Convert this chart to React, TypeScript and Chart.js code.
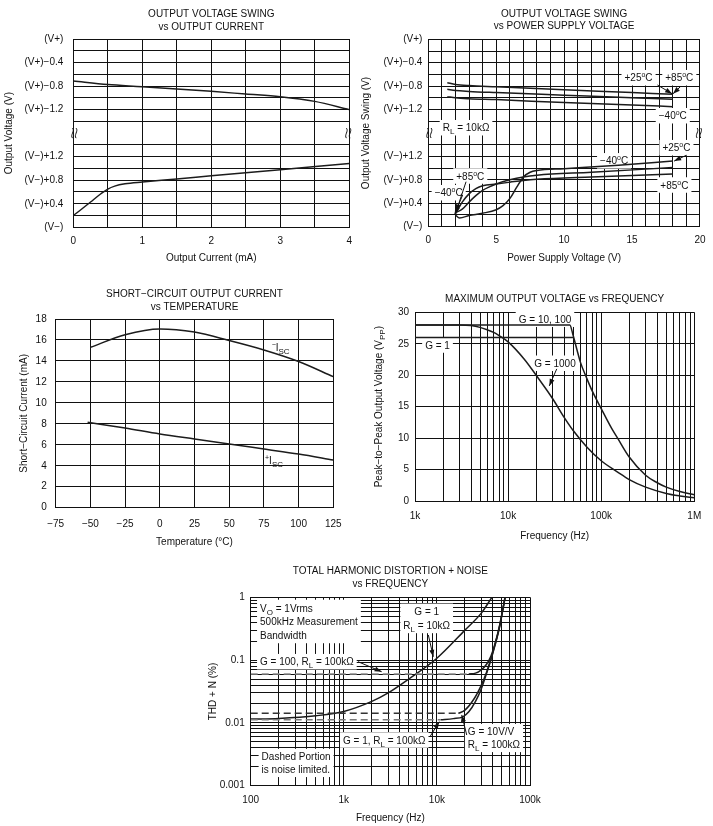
import React, { useEffect, useRef } from "react";
import { Chart, registerables } from "chart.js";

Chart.register(...registerables);

const FONT_FAMILY = "'Liberation Sans', Arial, Helvetica, sans-serif";
const INK = "#111111";
const CURVE = "#1c1c1c";

/* ---------- shared broken "swing" axis (volts between V− and V+) ---------- */
const swingTickValues = [0, 0.4, 0.8, 1.2, 2.0, 2.4, 2.8, 3.2];
const swingTickLabels = ["(V−)", "(V−)+0.4", "(V−)+0.8", "(V−)+1.2", "(V+)−1.2", "(V+)−0.8", "(V+)−0.4", "(V+)"];
const SWING_SPAN = 3.2;
const SWING_BREAK = 1.6;

/* ---------- Panel 1: output voltage swing vs output current ---------- */
const c1Title = ["OUTPUT VOLTAGE SWING", "vs OUTPUT CURRENT"];
const c1HighCurrent = [0, 0.5, 1, 1.5, 2, 2.5, 3, 3.5, 4];
const c1HighSwing = [-0.715, -0.775, -0.81, -0.85, -0.89, -0.935, -0.98, -1.06, -1.2];
const c1LowCurrent = [0, 0.1, 0.25, 0.4, 0.5, 0.6, 0.75, 1, 1.5, 2, 3, 4];
const c1LowSwing = [0.2, 0.29, 0.43, 0.57, 0.65, 0.7, 0.74, 0.77, 0.82, 0.875, 0.98, 1.085];
const c1XTickValues = [0, 1, 2, 3, 4];
const c1XTickLabels = ["0", "1", "2", "3", "4"];

/* ---------- Panel 2: output voltage swing vs supply voltage ---------- */
const c2Title = ["OUTPUT VOLTAGE SWING", "vs POWER SUPPLY VOLTAGE"];
const c2HighSupply = [1.4, 2, 3, 5, 10, 15, 18];
const c2HighA = [-0.742, -0.77, -0.79, -0.81, -0.86, -0.91, -0.94];
const c2HighB = [-0.854, -0.875, -0.89, -0.91, -0.955, -1.0, -1.025];
const c2HighC = [-0.98, -1.0, -1.015, -1.03, -1.08, -1.12, -1.15];
const c2LowSupplyA = [2, 2.3, 3, 4, 5, 5.5, 6, 6.5, 7, 7.5, 8, 10, 14, 18];
const c2LowA = [0.2, 0.15, 0.19, 0.23, 0.29, 0.36, 0.48, 0.67, 0.85, 0.93, 0.96, 0.99, 1.05, 1.12];
const c2LowSupplyB = [2, 2.5, 3, 3.5, 4, 5, 6, 7, 8, 12, 18];
const c2LowB = [0.22, 0.42, 0.56, 0.65, 0.7, 0.73, 0.76, 0.79, 0.81, 0.85, 0.9];
const c2LowSupplyC = [2, 2.5, 3, 3.5, 4, 4.5, 5, 6, 7, 8, 12, 18];
const c2LowC = [0.24, 0.3, 0.42, 0.53, 0.62, 0.68, 0.73, 0.8, 0.85, 0.88, 0.93, 1.01];
const c2XTickValues = [0, 5, 10, 15, 20];
const c2XTickLabels = ["0", "5", "10", "15", "20"];

/* ---------- Panel 3: short-circuit current vs temperature ---------- */
const c3Title = ["SHORT−CIRCUIT OUTPUT CURRENT", "vs TEMPERATURE"];
const c3TempNeg = [-50, -25, 0, 25, 50, 75, 100, 125];
const c3IscNeg = [15.3, 16.5, 17.05, 16.75, 15.95, 15.05, 13.95, 12.5];
const c3TempPos = [-52, -25, 0, 25, 50, 75, 100, 125];
const c3IscPos = [8.15, 7.6, 7.03, 6.55, 6.08, 5.6, 5.12, 4.55];
const c3XTickValues = [-75, -50, -25, 0, 25, 50, 75, 100, 125];
const c3XTickLabels = ["−75", "−50", "−25", "0", "25", "50", "75", "100", "125"];
const c3YTickValues = [0, 2, 4, 6, 8, 10, 12, 14, 16, 18];
const c3YTickLabels = ["0", "2", "4", "6", "8", "10", "12", "14", "16", "18"];

/* ---------- Panel 4: max output voltage vs frequency ---------- */
const c4Title = ["MAXIMUM OUTPUT VOLTAGE vs FREQUENCY"];
const c4FreqG1 = [1000, 50500];
const c4VppG1 = [26, 26];
const c4FreqG10 = [1000, 46000, 50000, 55000, 60000, 70000, 80000, 100000, 130000, 150000, 200000, 300000, 400000, 500000, 700000, 1000000];
const c4VppG10 = [28, 28, 26.3, 24, 22, 19.5, 17.5, 14.7, 11.5, 10, 7, 4.1, 2.9, 2.2, 1.5, 1.0];
const c4FreqG1000 = [1000, 3000, 4000, 5000, 6000, 7000, 8000, 10000, 15000, 20000, 30000, 40000, 50000, 70000, 100000, 150000, 200000, 300000, 500000, 700000, 1000000];
const c4VppG1000 = [28, 28, 27.9, 27.6, 27.2, 26.8, 26.3, 25.3, 22.5, 20, 16.3, 13.3, 11.2, 8.6, 6.4, 4.6, 3.4, 2.2, 1.2, 0.8, 0.5];
const c4XTickValues = [1000, 10000, 100000, 1000000];
const c4XTickLabels = ["1k", "10k", "100k", "1M"];
const c4YTickValues = [0, 5, 10, 15, 20, 25, 30];
const c4YTickLabels = ["0", "5", "10", "15", "20", "25", "30"];

/* ---------- Panel 5: THD + N vs frequency ---------- */
const c5Title = ["TOTAL HARMONIC DISTORTION + NOISE", "vs FREQUENCY"];
const c5FreqG1Rl10k = [100, 200, 500, 1000, 2000, 3000, 5000, 10000, 20000, 30000, 39000];
const c5ThdG1Rl10k = [0.0115, 0.0118, 0.013, 0.0152, 0.022, 0.03, 0.05, 0.107, 0.3, 0.56, 1.0];
const c5FreqG100Noise = [100, 22000];
const c5ThdG100Noise = [0.06, 0.06];
const c5FreqG100 = [22000, 26000, 30000, 34000, 38000, 42000, 47000, 54000];
const c5ThdG100 = [0.06, 0.062, 0.07, 0.085, 0.115, 0.18, 0.35, 1.0];
const c5FreqG1Noise = [100, 11000];
const c5ThdG1Noise = [0.0112, 0.0112];
const c5FreqG1Rl100k = [11000, 15000, 19000, 22000, 26000, 30000, 34000, 38000, 42000, 47000, 54000];
const c5ThdG1Rl100k = [0.0112, 0.0117, 0.0125, 0.015, 0.022, 0.035, 0.06, 0.1, 0.17, 0.33, 1.0];
const c5FreqG10Noise = [100, 17000];
const c5ThdG10Noise = [0.0142, 0.0142];
const c5FreqG10 = [17000, 20000, 25000, 30000, 34000, 38000, 42000, 47000, 54000];
const c5ThdG10 = [0.0142, 0.016, 0.024, 0.04, 0.063, 0.105, 0.175, 0.34, 1.0];
const c5XTickValues = [100, 1000, 10000, 100000];
const c5XTickLabels = ["100", "1k", "10k", "100k"];
const c5YTickValues = [0.001, 0.01, 0.1, 1];
const c5YTickLabels = ["0.001", "0.01", "0.1", "1"];

/* ---------- helpers ---------- */
const pts = (xs: number[], ys: number[], f: (v: number) => number = (v) => v) =>
  xs.map((x, i) => ({ x, y: f(ys[i]) }));
const fromTop = (v: number) => SWING_SPAN + v;

const range = (a: number, b: number, step: number) => {
  const out: number[] = [];
  for (let i = 0; a + i * step <= b + 1e-9; i++) out.push(Math.round((a + i * step) * 1e6) / 1e6);
  return out;
};
const logGrid = (e0: number, e1: number) => {
  const out: number[] = [];
  for (let e = e0; e < e1; e++) for (let d = 1; d <= 9; d++) out.push(Number((d * Math.pow(10, e)).toPrecision(6)));
  out.push(Number(Math.pow(10, e1).toPrecision(6)));
  return out;
};
const labelFrom = (values: number[], labels: string[]) => (v: number) => {
  const i = values.findIndex((t) => Math.abs(t - v) <= 1e-6 * Math.max(1, Math.abs(t)));
  return i >= 0 ? labels[i] : "";
};

const line = (data: any[], extra: any = {}) => ({
  data,
  borderColor: CURVE,
  borderWidth: 1.5,
  pointRadius: 0,
  fill: false,
  cubicInterpolationMode: "monotone",
  ...extra,
});

type Seg = { t: string; k?: "sub" | "sup" };
function segs(s: string): Seg[] {
  const out: Seg[] = [];
  const re = /([_^])\{([^}]*)\}/g;
  let last = 0;
  let m: RegExpExecArray | null;
  while ((m = re.exec(s))) {
    if (m.index > last) out.push({ t: s.slice(last, m.index) });
    out.push({ t: m[2], k: m[1] === "_" ? "sub" : "sup" });
    last = re.lastIndex;
  }
  if (last < s.length) out.push({ t: s.slice(last) });
  return out;
}
const segFont = (k?: string) => (k === "sub" ? `8px ${FONT_FAMILY}` : k === "sup" ? `7px ${FONT_FAMILY}` : `10px ${FONT_FAMILY}`);
function richWidth(ctx: CanvasRenderingContext2D, s: string) {
  let w = 0;
  for (const sg of segs(s)) {
    ctx.font = segFont(sg.k);
    w += ctx.measureText(sg.t).width;
  }
  return w;
}
function drawRich(ctx: CanvasRenderingContext2D, s: string, x: number, y: number, align: string) {
  const w = richWidth(ctx, s);
  let cx = align === "center" ? x - w / 2 : align === "right" ? x - w : x;
  ctx.textAlign = "left";
  ctx.textBaseline = "alphabetic";
  const base = y + 3.6;
  for (const sg of segs(s)) {
    ctx.font = segFont(sg.k);
    const dy = sg.k === "sub" ? 3 : sg.k === "sup" ? -4 : 0;
    ctx.fillText(sg.t, cx, base + dy);
    cx += ctx.measureText(sg.t).width;
  }
}

type Note = { x: number; y: number; lines: string[]; align?: string; box?: boolean; lh?: number };
type Arrow = { x1: number; y1: number; x2: number; y2: number };
type AxisSpec = {
  type: "linear" | "logarithmic";
  min: number;
  max: number;
  grid: number[];
  tickValues: number[];
  tickLabels: string[];
  padding: number;
  title?: string;
  titlePad?: number;
  hideGridAt?: number;
};
type PanelSpec = {
  key: string;
  left: number;
  top: number;
  width: number;
  height: number;
  padTop: number;
  padRight: number;
  yWidth: number;
  xHeight: number;
  title: string[];
  titleY: number[];
  datasets: any[];
  x: AxisSpec;
  y: AxisSpec;
  notes: Note[];
  arrows: Arrow[];
  breakAt?: number;
  yRichTitle?: { text: string; x: number };
};

function buildScale(s: AxisSpec, axis: "x" | "y", size: number) {
  const label = labelFrom(s.tickValues, s.tickLabels);
  return {
    type: s.type,
    position: axis === "x" ? "bottom" : "left",
    min: s.min,
    max: s.max,
    afterBuildTicks: (scale: any) => {
      scale.ticks = s.grid.map((v) => ({ value: v, major: false }));
    },
    afterFit: (scale: any) => {
      if (axis === "x") scale.height = size;
      else scale.width = size;
    },
    grid: {
      drawTicks: false,
      lineWidth: 1,
      color: (ctx: any) =>
        s.hideGridAt !== undefined && ctx.tick && Math.abs(ctx.tick.value - s.hideGridAt) < 1e-6
          ? "rgba(0,0,0,0)"
          : INK,
    },
    border: { display: true, color: INK, width: 1 },
    ticks: {
      autoSkip: false,
      maxRotation: 0,
      minRotation: 0,
      padding: s.padding,
      color: INK,
      font: { family: FONT_FAMILY, size: 10 },
      callback: (v: any) => label(Number(v)),
    },
    title: s.title
      ? {
          display: true,
          text: s.title,
          color: INK,
          font: { family: FONT_FAMILY, size: 10, lineHeight: 1.2 },
          padding: axis === "x" ? { top: 0, bottom: s.titlePad ?? 0 } : { top: s.titlePad ?? 0, bottom: 0 },
        }
      : { display: false },
  };
}

function noteRect(ctx: CanvasRenderingContext2D, px: number, py: number, n: Note) {
  const lh = n.lh ?? 12.5;
  const w = Math.max(...n.lines.map((l) => richWidth(ctx, l)));
  const align = n.align ?? "left";
  const left = align === "center" ? px - w / 2 : align === "right" ? px - w : px;
  return { x: left - 3, y: py - lh / 2 - 1.5, w: w + 6, h: n.lines.length * lh + 3 };
}

function drawBreakMark(ctx: CanvasRenderingContext2D, x: number, y: number) {
  ctx.save();
  ctx.strokeStyle = INK;
  ctx.lineWidth = 1;
  for (const off of [-1.8, 1.8]) {
    const cx = x + off;
    ctx.beginPath();
    ctx.moveTo(cx, y - 5);
    ctx.bezierCurveTo(cx + 2.6, y - 2, cx - 2.6, y + 2, cx, y + 5);
    ctx.stroke();
  }
  ctx.restore();
}

function overlay(p: PanelSpec) {
  const at = (chart: any, x: number, y: number) => ({
    px: chart.scales.x.getPixelForValue(x),
    py: chart.scales.y.getPixelForValue(y),
  });
  return {
    id: "overlay" + p.key,
    beforeDatasetsDraw(chart: any) {
      const ctx: CanvasRenderingContext2D = chart.ctx;
      ctx.save();
      ctx.fillStyle = "#ffffff";
      for (const n of p.notes) {
        if (!n.box) continue;
        const { px, py } = at(chart, n.x, n.y);
        const r = noteRect(ctx, px, py, n);
        ctx.fillRect(r.x, r.y, r.w, r.h);
      }
      ctx.restore();
    },
    afterDatasetsDraw(chart: any) {
      const ctx: CanvasRenderingContext2D = chart.ctx;
      ctx.save();
      ctx.strokeStyle = INK;
      ctx.fillStyle = INK;
      ctx.lineWidth = 1;
      for (const a of p.arrows) {
        const s = at(chart, a.x1, a.y1);
        const e = at(chart, a.x2, a.y2);
        const ang = Math.atan2(e.py - s.py, e.px - s.px);
        ctx.beginPath();
        ctx.moveTo(s.px, s.py);
        ctx.lineTo(e.px, e.py);
        ctx.stroke();
        ctx.beginPath();
        ctx.moveTo(e.px, e.py);
        ctx.lineTo(e.px - 7 * Math.cos(ang) + 2.5 * Math.sin(ang), e.py - 7 * Math.sin(ang) - 2.5 * Math.cos(ang));
        ctx.lineTo(e.px - 7 * Math.cos(ang) - 2.5 * Math.sin(ang), e.py - 7 * Math.sin(ang) + 2.5 * Math.cos(ang));
        ctx.closePath();
        ctx.fill();
      }
      for (const n of p.notes) {
        const { px, py } = at(chart, n.x, n.y);
        const lh = n.lh ?? 12.5;
        n.lines.forEach((l, i) => drawRich(ctx, l, px, py + i * lh, n.align ?? "left"));
      }
      if (p.breakAt !== undefined) {
        const yb = chart.scales.y.getPixelForValue(p.breakAt);
        const { left, right } = chart.chartArea;
        drawBreakMark(ctx, left + 1, yb);
        drawBreakMark(ctx, right - 1, yb);
      }
      ctx.restore();
    },
    afterDraw(chart: any) {
      const ctx: CanvasRenderingContext2D = chart.ctx;
      const { left, right, top, bottom } = chart.chartArea;
      ctx.save();
      ctx.fillStyle = INK;
      ctx.font = `10px ${FONT_FAMILY}`;
      ctx.textAlign = "center";
      ctx.textBaseline = "middle";
      p.title.forEach((t, i) => ctx.fillText(t, (left + right) / 2, p.titleY[i]));
      if (p.yRichTitle) {
        ctx.translate(p.yRichTitle.x, (top + bottom) / 2);
        ctx.rotate(-Math.PI / 2);
        drawRich(ctx, p.yRichTitle.text, 0, 0, "center");
      }
      ctx.restore();
    },
  };
}

function buildConfig(p: PanelSpec): any {
  return {
    type: "line",
    data: { datasets: p.datasets },
    options: {
      responsive: false,
      animation: false,
      devicePixelRatio: 1,
      events: [],
      layout: { padding: { top: p.padTop, right: p.padRight, left: 0, bottom: 0 } },
      plugins: { legend: { display: false }, tooltip: { enabled: false }, title: { display: false } },
      scales: { x: buildScale(p.x, "x", p.xHeight), y: buildScale(p.y, "y", p.yWidth) },
    },
    plugins: [overlay(p)],
  };
}

const swingAxis = (title: string, padding: number, titlePad: number): AxisSpec => ({
  type: "linear",
  min: 0,
  max: SWING_SPAN,
  grid: range(0, SWING_SPAN, 0.2),
  tickValues: swingTickValues,
  tickLabels: swingTickLabels,
  padding,
  title,
  titlePad,
  hideGridAt: SWING_BREAK,
});

/* ---------- panel specs ---------- */
const panel1: PanelSpec = {
  key: "p1",
  left: 0, top: 0, width: 360, height: 275,
  padTop: 39, padRight: 9.3, yWidth: 73.3, xHeight: 47.7,
  title: c1Title, titleY: [14.3, 27.3],
  datasets: [line(pts(c1HighCurrent, c1HighSwing, fromTop)), line(pts(c1LowCurrent, c1LowSwing))],
  x: { type: "linear", min: 0, max: 4, grid: range(0, 4, 0.5), tickValues: c1XTickValues, tickLabels: c1XTickLabels, padding: 8, title: "Output Current (mA)", titlePad: 11 },
  y: swingAxis("Output Voltage (V)", 10, 3.3),
  notes: [],
  arrows: [],
  breakAt: SWING_BREAK,
};

const panel2: PanelSpec = {
  key: "p2",
  left: 360, top: 0, width: 353, height: 275,
  padTop: 39.3, padRight: 8, yWidth: 68.3, xHeight: 48.3,
  title: c2Title, titleY: [14.3, 26.7],
  datasets: [
    line(pts(c2HighSupply, c2HighA, fromTop)),
    line(pts(c2HighSupply, c2HighB, fromTop)),
    line(pts(c2HighSupply, c2HighC, fromTop)),
    line(pts(c2LowSupplyA, c2LowA)),
    line(pts(c2LowSupplyB, c2LowB)),
    line(pts(c2LowSupplyC, c2LowC)),
  ],
  x: { type: "linear", min: 0, max: 20, grid: range(0, 20, 1), tickValues: c2XTickValues, tickLabels: c2XTickLabels, padding: 7.5, title: "Power Supply Voltage (V)", titlePad: 11 },
  y: swingAxis("Output Voltage Swing (V)", 6, 0.3),
  notes: [
    { x: 15.48, y: 2.544, lines: ["+25^{o}C"], align: "center", box: true },
    { x: 18.48, y: 2.544, lines: ["+85^{o}C"], align: "center", box: true },
    { x: 18.0, y: 1.895, lines: ["−40^{o}C"], align: "center", box: true },
    { x: 1.06, y: 1.69, lines: ["R_{L} = 10kΩ"], align: "left", box: true },
    { x: 18.27, y: 1.349, lines: ["+25^{o}C"], align: "center", box: true },
    { x: 13.68, y: 1.125, lines: ["−40^{o}C"], align: "center", box: true },
    { x: 18.12, y: 0.712, lines: ["+85^{o}C"], align: "center", box: true },
    { x: 3.09, y: 0.866, lines: ["+85^{o}C"], align: "center", box: true },
    { x: 1.5, y: 0.58, lines: ["−40^{o}C"], align: "center", box: true },
  ],
  arrows: [
    { x1: 16.87, y1: 2.42, x2: 17.95, y2: 2.27 },
    { x1: 18.6, y1: 2.4, x2: 18.02, y2: 2.27 },
    { x1: 19.0, y1: 1.22, x2: 18.1, y2: 1.12 },
    { x1: 2.78, y1: 0.768, x2: 2.05, y2: 0.26 },
    { x1: 2.53, y1: 0.541, x2: 1.95, y2: 0.22 },
  ],
  breakAt: SWING_BREAK,
};

const panel3: PanelSpec = {
  key: "p3",
  left: 0, top: 280, width: 360, height: 275,
  padTop: 39, padRight: 26.7, yWidth: 55.7, xHeight: 47.3,
  title: c3Title, titleY: [14.3, 27.3],
  datasets: [line(pts(c3TempNeg, c3IscNeg)), line(pts(c3TempPos, c3IscPos))],
  x: { type: "linear", min: -75, max: 125, grid: range(-75, 125, 25), tickValues: c3XTickValues, tickLabels: c3XTickLabels, padding: 10.5, title: "Temperature (°C)", titlePad: 7 },
  y: { type: "linear", min: 0, max: 18, grid: range(0, 18, 2), tickValues: c3YTickValues, tickLabels: c3YTickLabels, padding: 9, title: "Short−Circuit Current (mA)", titlePad: 18 },
  notes: [
    { x: 80.6, y: 15.3, lines: ["^{−}I_{SC}"], align: "left" },
    { x: 75.8, y: 4.55, lines: ["^{+}I_{SC}"], align: "left" },
  ],
  arrows: [],
};

const panel4: PanelSpec = {
  key: "p4",
  left: 360, top: 280, width: 353, height: 275,
  padTop: 32.3, padRight: 18.7, yWidth: 55, xHeight: 54,
  title: c4Title, titleY: [19],
  datasets: [
    line(pts(c4FreqG1, c4VppG1), { cubicInterpolationMode: "default" }),
    line(pts(c4FreqG10, c4VppG10)),
    line(pts(c4FreqG1000, c4VppG1000)),
  ],
  x: { type: "logarithmic", min: 1000, max: 1000000, grid: logGrid(3, 6), tickValues: c4XTickValues, tickLabels: c4XTickLabels, padding: 9.7, title: "Frequency (Hz)", titlePad: 12.3 },
  y: { type: "linear", min: 0, max: 30, grid: range(0, 30, 5), tickValues: c4YTickValues, tickLabels: c4YTickLabels, padding: 6 },
  notes: [
    { x: 24900, y: 28.9, lines: ["G = 10, 100"], align: "center", box: true },
    { x: 1745, y: 24.8, lines: ["G = 1"], align: "center", box: true },
    { x: 31900, y: 21.9, lines: ["G = 1000"], align: "center", box: true },
  ],
  arrows: [{ x1: 33300, y1: 21.0, x2: 27700, y2: 18.3 }],
  yRichTitle: { text: "Peak−to−Peak Output Voltage (V_{PP})", x: 18.3 },
};

const panel5: PanelSpec = {
  key: "p5",
  left: 200, top: 560, width: 350, height: 266,
  padTop: 37.3, padRight: 20, yWidth: 50.7, xHeight: 40.3,
  title: c5Title, titleY: [11.7, 24],
  datasets: [
    line(pts(c5FreqG100Noise, c5ThdG100Noise), { borderColor: "#8a8a8a", borderDash: [7, 4], cubicInterpolationMode: "default" }),
    line(pts(c5FreqG1Noise, c5ThdG1Noise), { borderColor: "#7a7a7a", borderDash: [7, 4], cubicInterpolationMode: "default" }),
    line(pts(c5FreqG10Noise, c5ThdG10Noise), { borderColor: "#333333", borderDash: [7, 4], cubicInterpolationMode: "default" }),
    line(pts(c5FreqG1Rl10k, c5ThdG1Rl10k)),
    line(pts(c5FreqG100, c5ThdG100)),
    line(pts(c5FreqG1Rl100k, c5ThdG1Rl100k)),
    line(pts(c5FreqG10, c5ThdG10)),
  ],
  x: { type: "logarithmic", min: 100, max: 100000, grid: logGrid(2, 5), tickValues: c5XTickValues, tickLabels: c5XTickLabels, padding: 8.3, title: "Frequency (Hz)", titlePad: 1.7 },
  y: { type: "logarithmic", min: 0.001, max: 1, grid: logGrid(-3, 0), tickValues: c5YTickValues, tickLabels: c5YTickLabels, padding: 6, title: "THD + N (%)", titlePad: 7.3 },
  notes: [
    { x: 126, y: 0.676, lines: ["V_{O} = 1Vrms", "500kHz Measurement", "Bandwidth"], align: "left", box: true, lh: 13.5 },
    { x: 7770, y: 0.589, lines: ["G = 1", "R_{L} = 10kΩ"], align: "center", box: true, lh: 13.3 },
    { x: 126, y: 0.0944, lines: ["G = 100, R_{L} = 100kΩ"], align: "left", box: true },
    { x: 980, y: 0.00534, lines: ["G = 1, R_{L} = 100kΩ"], align: "left", box: true },
    { x: 21500, y: 0.00724, lines: ["G = 10V/V", "R_{L} = 100kΩ"], align: "left", box: true, lh: 12.6 },
    { x: 131, y: 0.0029, lines: ["Dashed Portion", "is noise limited."], align: "left", box: true, lh: 12.6 },
  ],
  arrows: [
    { x1: 8090, y1: 0.251, x2: 9150, y2: 0.113 },
    { x1: 1420, y1: 0.0944, x2: 2550, y2: 0.0653 },
    { x1: 8430, y1: 0.00603, x2: 10600, y2: 0.01045 },
    { x1: 20900, y1: 0.00642, x2: 18500, y2: 0.0134 },
  ],
};

const PANELS = [panel1, panel2, panel3, panel4, panel5];

function Panel({ spec }: { spec: PanelSpec }) {
  const ref = useRef<HTMLCanvasElement | null>(null);
  useEffect(() => {
    if (!ref.current) return;
    const chart = new Chart(ref.current, buildConfig(spec));
    return () => chart.destroy();
  }, [spec]);
  return (
    <canvas
      ref={ref}
      width={spec.width}
      height={spec.height}
      style={{ position: "absolute", left: spec.left, top: spec.top, width: spec.width, height: spec.height }}
    />
  );
}

export default function App() {
  return (
    <div style={{ position: "absolute", left: 0, top: 0, width: 713, height: 826, background: "#ffffff", overflow: "hidden" }}>
      {PANELS.map((p) => (
        <Panel key={p.key} spec={p} />
      ))}
    </div>
  );
}
